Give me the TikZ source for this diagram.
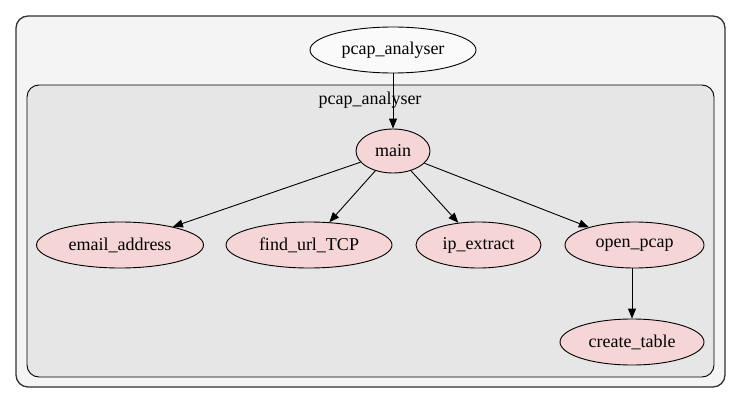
\documentclass[tikz,border=0pt]{standalone}
\usepackage{fontspec}
\setmainfont{Liberation Serif}
\newfontfamily\graphfont{Liberation Serif}
\usetikzlibrary{shapes.geometric,arrows.meta}
\definecolor{outerfill}{HTML}{F4F4F4}
\definecolor{innerfill}{HTML}{E6E6E6}
\definecolor{funcfill}{HTML}{F5D5D5}
\definecolor{outerline}{HTML}{333333}
\begin{document}
\begin{tikzpicture}[x=1pt,y=-1pt,
  every node/.style={font=\graphfont\fontsize{18}{20}\selectfont},
  modnode/.style={ellipse,draw=black,line width=0.9pt,fill=white!98!black,inner sep=0pt},
  funcnode/.style={ellipse,draw=black,line width=0.9pt,fill=funcfill,inner sep=0pt},
  call/.style={draw=black,line width=0.9pt,-{Triangle[length=10pt,width=8pt]}}]
  \useasboundingbox[fill=white] (0,0) rectangle (741,404);
  % package cluster and module cluster
  \draw[fill=outerfill,draw=outerline,line width=1.3pt,rounded corners=12pt] (16,16) rectangle (725,387);
  \draw[fill=innerfill,draw=black,line width=0.9pt,rounded corners=12pt] (27,85) rectangle (714,377);
  \node (clabel) at (370,100) {pcap\_analyser};
  % nodes
  \node[modnode,minimum width=166pt,minimum height=46pt] (pkg) at (393,50) {pcap\_analyser};
  \node[funcnode,minimum width=74pt,minimum height=44pt] (main) at (393,151) {main};
  \node[funcnode,minimum width=167pt,minimum height=46pt] (email) at (120,245) {email\_address};
  \node[funcnode,minimum width=166pt,minimum height=46pt] (findurl) at (309,245) {find\_url\_TCP};
  \node[funcnode,minimum width=125pt,minimum height=46pt] (ipext) at (478.5,245) {ip\_extract};
  \node[funcnode,minimum width=139pt,minimum height=46pt] (openpcap) at (634.5,245) {open\_pcap};
  \node[funcnode,minimum width=144pt,minimum height=46pt] (ctable) at (632,342) {create\_table};
  % calls
  \draw[call] (pkg) -- (main);
  \draw[call] (main) -- (email);
  \draw[call] (main) -- (findurl);
  \draw[call] (main) -- (ipext);
  \draw[call] (main) -- (openpcap);
  \draw[call] (openpcap.south -| ctable.north) -- (ctable);
\end{tikzpicture}
\end{document}
